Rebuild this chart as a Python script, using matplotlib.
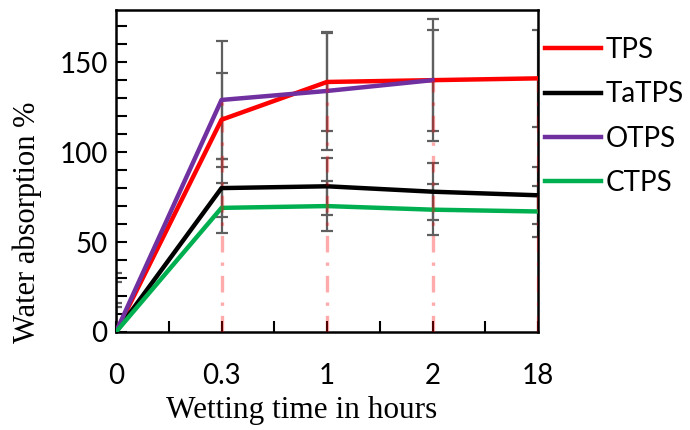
import matplotlib
matplotlib.use('Agg')
import matplotlib.pyplot as plt
from matplotlib.ticker import MultipleLocator, FixedLocator
import numpy as np

# wetting time categories and water absorption values (%)
times = ['0', '0.3', '1', '2', '18']
tps = [0, 118, 139, 140, 141]
tatps = [0, 80, 81, 78, 76]
otps = [0, 129, 134, 140, np.nan]
ctps = [0, 69, 70, 68, 67]

tps_err = [28, 26, 27, 28, 27]
tatps_err = [16, 16, 16, 16, 16]
otps_err = [33, 33, 33, 34, np.nan]
ctps_err = [14, 14, 14, 14, 14]

series = [('TPS', tps, tps_err, '#ff0000'),
          ('TaTPS', tatps, tatps_err, '#000000'),
          ('OTPS', otps, otps_err, '#7030a0'),
          ('CTPS', ctps, ctps_err, '#00b050')]

x = np.arange(len(times))

fig = plt.figure(figsize=(6.9, 4.3), dpi=100)
ax = fig.add_axes([116/690, 1 - 332/430, 422/690, 322/430])

for name, vals, err, col in series:
    ax.errorbar(x, vals, yerr=err, fmt='none', ecolor='#5f5f5f', elinewidth=1.6,
                capsize=4, capthick=1.6, zorder=2)

for name, vals, err, col in series:
    ax.plot(x, vals, color=col, lw=3.2, label=name, zorder=3)

# drop lines from the highest point down to the axis
top = np.nanmax(np.array([tps, tatps, otps, ctps], dtype=float), axis=0)
for xi, t in zip(x, top):
    if t > 0:
        ax.plot([xi, xi], [0, t], color='red', alpha=0.33, lw=2.4,
                dashes=(5, 3, 1, 3), zorder=4)

ax.set_xlim(0, 4)
ax.set_ylim(0, 179)
ax.set_xticks(x)
ax.set_xticklabels(times)
ax.xaxis.set_minor_locator(FixedLocator([0.5, 1.5, 2.5, 3.5]))
ax.yaxis.set_major_locator(MultipleLocator(50))
ax.yaxis.set_minor_locator(MultipleLocator(10))

tick_font = 'Lato'
ax.tick_params(which='both', direction='in', length=8, width=1.5, color='black')
ax.tick_params(axis='x', which='major', pad=22, labelsize=20)
ax.tick_params(axis='y', which='major', pad=6, labelsize=20)
for lab in ax.get_xticklabels() + ax.get_yticklabels():
    lab.set_fontfamily(tick_font)

for sp in ax.spines.values():
    sp.set_linewidth(1.8)

ax.set_xlabel('Wetting time in hours', family='Liberation Serif', fontsize=22.5)
ax.set_ylabel('Water absorption %', family='Liberation Serif', fontsize=22)
ax.xaxis.set_label_coords(0.44, -0.2)
ax.yaxis.set_label_coords(-0.175, 0.34)

fig.legend(*ax.get_legend_handles_labels(), loc='upper left',
           bbox_to_anchor=(545/690, 1 - 37/430), bbox_transform=fig.transFigure,
           frameon=False, prop={'family': tick_font, 'size': 20},
           handlelength=2.0, handletextpad=0.2, labelspacing=0.66,
           borderpad=0, borderaxespad=0)

fig.savefig('out.png', dpi=100)
